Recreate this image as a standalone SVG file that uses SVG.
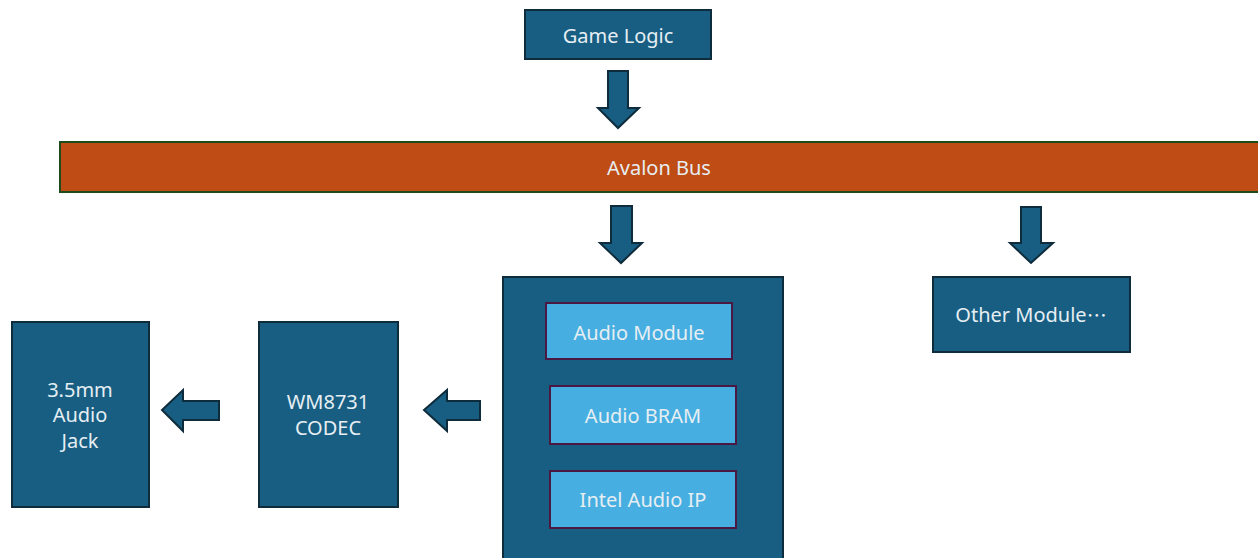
<svg xmlns="http://www.w3.org/2000/svg" width="1258" height="558" viewBox="0 0 1258 558">
<style>
.box{fill:#175e82;stroke:#0e2c3c;stroke-width:2}
.inner{fill:#46aee0;stroke:#4a1840;stroke-width:2}
.bus{fill:#bf4c14;stroke:#1f4a1a;stroke-width:2}
.arr{fill:#175e82;stroke:#0e2c3c;stroke-width:2;stroke-linejoin:miter}
text{font-family:"Noto Sans","Open Sans","Liberation Sans",sans-serif;font-size:20px;fill:#e6eef3;text-anchor:middle;dominant-baseline:central}
.cjk{font-family:"Noto Sans CJK SC",sans-serif}
</style>
<rect x="0" y="0" width="1258" height="558" fill="#ffffff"/>
<g id="game-logic"><rect class="box" x="525" y="10" width="186" height="49"/><text x="618" y="35">Game Logic</text></g>
<g id="avalon-bus"><rect class="bus" x="60" y="142" width="1200" height="50"/><text x="659" y="167">Avalon Bus</text></g>
<g id="audio-container"><rect class="box" x="503" y="277" width="280" height="290"/></g>
<g id="audio-module"><rect class="inner" x="546" y="303" width="186" height="56"/><text x="639" y="332">Audio Module</text></g>
<g id="audio-bram"><rect class="inner" x="550" y="386" width="186" height="58"/><text x="643" y="415">Audio BRAM</text></g>
<g id="intel-audio-ip"><rect class="inner" x="550" y="471" width="186" height="57"/><text x="643" y="499">Intel Audio IP</text></g>
<g id="other-module"><rect class="box" x="933" y="277" width="197" height="75"/><text x="1031" y="314">Other Module<tspan class="cjk" xml:lang="zh-CN">…</tspan></text></g>
<g id="codec"><rect class="box" x="259" y="322" width="139" height="185"/><text x="328" y="401">WM8731</text><text x="328" y="427">CODEC</text></g>
<g id="audio-jack"><rect class="box" x="12" y="322" width="137" height="185"/><text x="80" y="389">3.5mm</text><text x="80" y="414">Audio</text><text x="80" y="440">Jack</text></g>
<g id="connectors">
<polygon class="arr" points="608,71 628,71 628,108 639,108 618,128 598,108 608,108"/>
<polygon class="arr" points="611,206 632,206 632,243 642,243 621,263 600,243 611,243"/>
<polygon class="arr" points="1021,207 1041,207 1041,243 1053,243 1031,263 1010,243 1021,243"/>
<polygon class="arr" points="480,401 480,420 447,420 447,431 424,410 447,390 447,401"/>
<polygon class="arr" points="219,401 219,420 183,420 183,431 162,410 183,390 183,401"/>
</g>
</svg>
